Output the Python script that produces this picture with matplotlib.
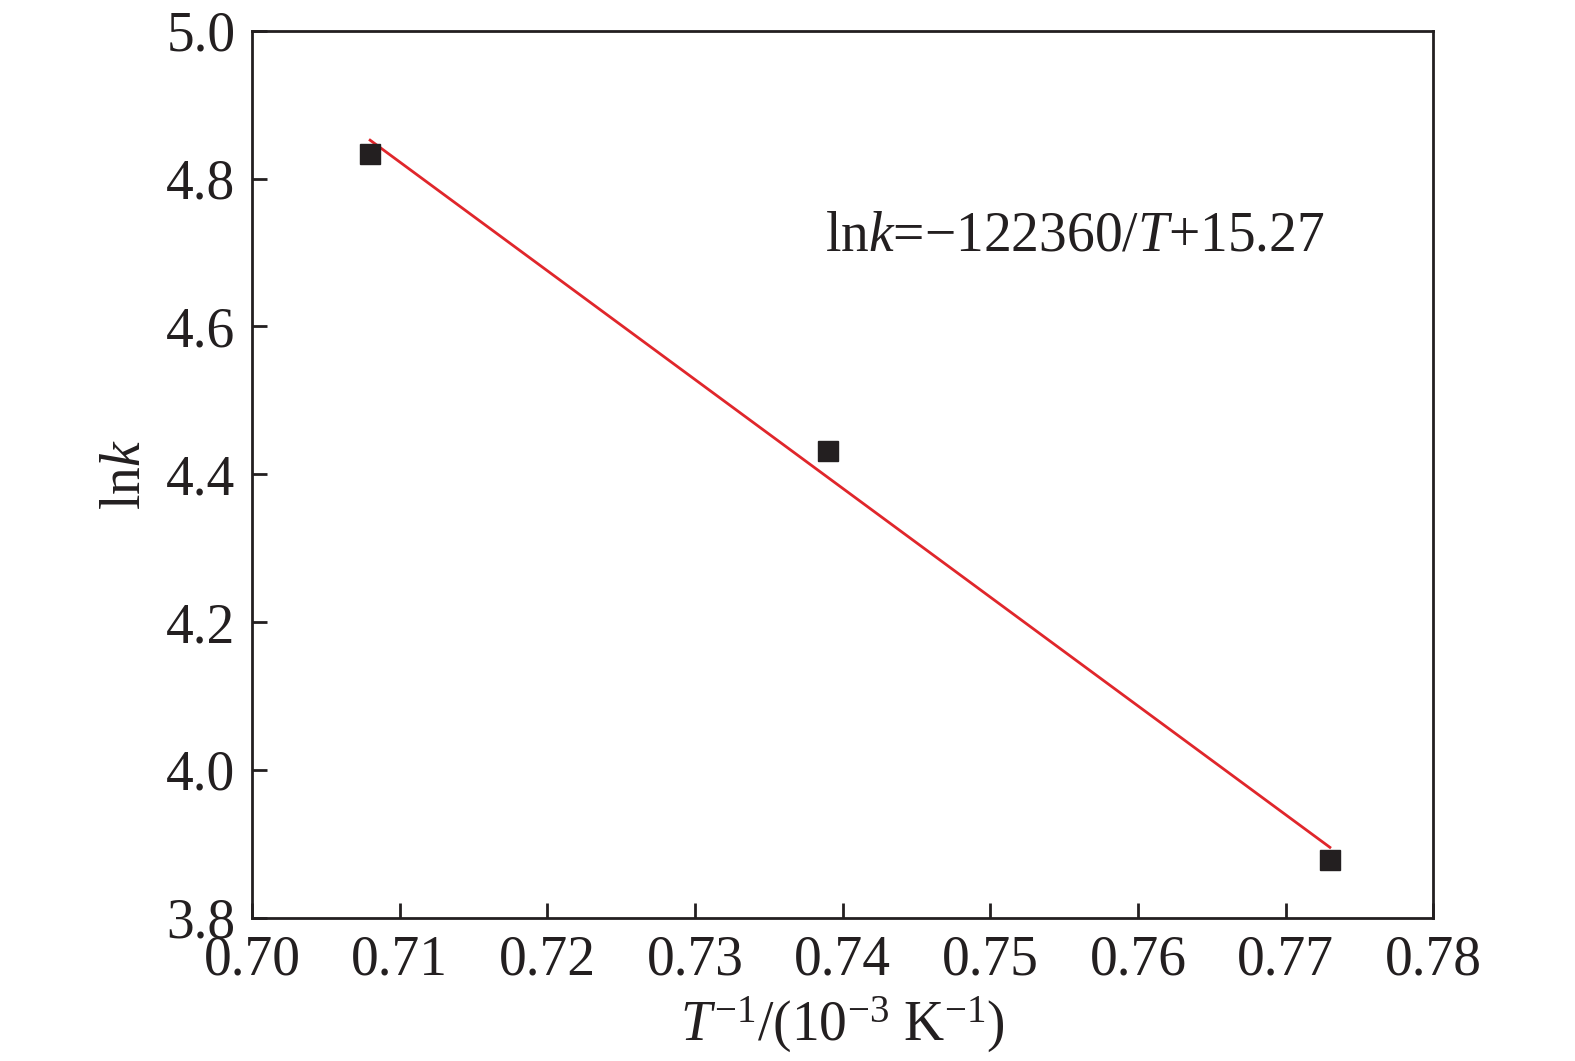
import numpy as np
import matplotlib
matplotlib.use("Agg")
import matplotlib.pyplot as plt

# Data
inv_T = [0.708, 0.739, 0.773]
lnk = [4.833, 4.432, 3.878]
x_ticks = [0.70, 0.71, 0.72, 0.73, 0.74, 0.75, 0.76, 0.77, 0.78]
y_ticks = [3.8, 4.0, 4.2, 4.4, 4.6, 4.8, 5.0]
equation = "ln$k$=\u2212122360/$T$+15.27"

plt.rcParams['font.family'] = ['Liberation Serif', 'DejaVu Serif']
plt.rcParams['mathtext.fontset'] = 'custom'
plt.rcParams['mathtext.rm'] = 'Liberation Serif'
plt.rcParams['mathtext.it'] = 'Liberation Serif:italic'

fig = plt.figure(figsize=(15.75, 10.61), dpi=100)
ax = fig.add_axes([0.160, 0.135, 0.750, 0.836])

coef = np.polyfit(inv_T, lnk, 1)
xl = np.array([min(inv_T), max(inv_T)])
ax.plot(xl, np.polyval(coef, xl), color='#e0262b', lw=2.0, zorder=2)
ax.plot(inv_T, lnk, 's', color='#231f20', ms=15, zorder=3)

ax.set_xlim(0.70, 0.78)
ax.set_ylim(3.8, 5.0)
ax.set_xticks(x_ticks)
ax.set_yticks(y_ticks)
ax.set_xticklabels([f"{v:.2f}" for v in x_ticks])
ax.set_yticklabels([f"{v:.1f}" for v in y_ticks])
ax.tick_params(direction='in', length=11, width=2, labelsize=40, colors='#231f20')
ax.tick_params(axis='x', pad=12)
ax.tick_params(axis='y', pad=12)
for s in ax.spines.values():
    s.set_linewidth(2)
    s.set_color('#231f20')

ax.set_xlabel("$T^{-1}$/(10$^{-3}$ K$^{-1}$)", fontsize=40, color='#231f20', labelpad=6)
ax.set_ylabel("ln$k$", fontsize=40, color='#231f20', labelpad=10)
ax.text(0.7388, 4.721, equation, fontsize=40, ha='left', va='center', color='#231f20')

fig.savefig("out.png", dpi=100)
